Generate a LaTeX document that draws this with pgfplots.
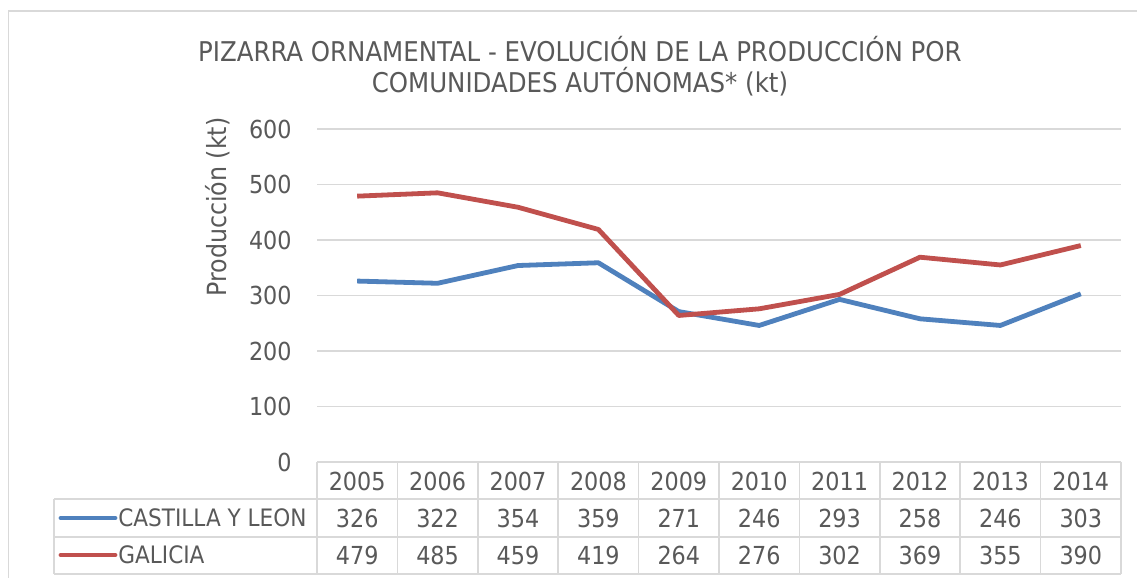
\documentclass[border=0pt]{standalone}
\usepackage{pgfplots}
\pgfplotsset{compat=1.18}
\usepackage{pgfplotstable}
\usepackage{fontspec}
\setmainfont{DejaVu Sans Condensed}
\definecolor{txt}{HTML}{595959}
\definecolor{grd}{HTML}{D9D9D9}
\definecolor{cyl}{HTML}{4F81BD}
\definecolor{gal}{HTML}{C0504D}
\pgfplotstableread{
i year cyl gal
0 2005 326 479
1 2006 322 485
2 2007 354 459
3 2008 359 419
4 2009 271 264
5 2010 246 276
6 2011 293 302
7 2012 258 369
8 2013 246 355
9 2014 303 390
}\data
\begin{document}
\begin{tikzpicture}
\useasboundingbox (0,0) rectangle (568.5pt,289pt);
\fill[white] (0,0) rectangle (568.5pt,289pt);
% outer frame
\draw[grd, line width=0.75pt] (4.25pt,0) -- (4.25pt,283.5pt) -- (568.5pt,283.5pt);
\begin{axis}[
  at={(158.5pt,58pt)}, anchor=south west,
  scale only axis, width=402pt, height=166.5pt,
  xmin=-0.5, xmax=9.5, ymin=0, ymax=600,
  clip=false,
  axis line style={draw=none},
  major tick length=0pt,
  ytick={0,100,...,600},
  ymajorgrids, grid style={grd, line width=0.75pt},
  xtick={0,...,9},
  xticklabels={2005,2006,2007,2008,2009,2010,2011,2012,2013,2014},
  /pgf/number format/assume math mode=true,
  tick label style={font=\fontsize{12.4}{14}\selectfont, text=txt},
  yticklabel style={anchor=east, inner sep=0pt, xshift=-12.5pt},
  xticklabel style={anchor=center, inner sep=0pt, yshift=-9.5pt},
  every node near coord/.style={font=\fontsize{12.4}{14}\selectfont, text=txt, anchor=center, inner sep=0pt},
]
\addplot[cyl, line width=2.4pt, line join=round] table[x=i, y=cyl] {\data};
\addplot[gal, line width=2.4pt, line join=round] table[x=i, y=gal] {\data};
\addplot[draw=none, mark=none, nodes near coords, point meta=explicit symbolic,
  every node near coord/.append style={yshift=-28pt}] table[x=i, y expr=0, meta=cyl] {\data};
\addplot[draw=none, mark=none, nodes near coords, point meta=explicit symbolic,
  every node near coord/.append style={yshift=-46.5pt}] table[x=i, y expr=0, meta=gal] {\data};
\end{axis}
% data table grid
\begin{scope}[grd, line width=0.75pt]
\draw (158.5pt,58pt) -- (560.5pt,58pt);
\draw (27pt,39.5pt) -- (560.5pt,39.5pt);
\draw (27pt,20.5pt) -- (560.5pt,20.5pt);
\draw (27pt,2pt) -- (560.5pt,2pt);
\draw (27pt,39.5pt) -- (27pt,2pt);
\foreach \k in {0,...,10} {\draw ({158.5pt+\k*40.2pt},58pt) -- ({158.5pt+\k*40.2pt},2pt);}
\end{scope}
% legend keys
\draw[cyl, line width=2.4pt, line cap=round] (30.5pt,30pt) -- (57.5pt,30pt);
\draw[gal, line width=2.4pt, line cap=round] (30.5pt,11.5pt) -- (57.5pt,11.5pt);
\node[anchor=west, inner sep=0pt, text=txt, font=\fontsize{12}{14}\selectfont] at (59pt,30pt) {CASTILLA Y LEON};
\node[anchor=west, inner sep=0pt, text=txt, font=\fontsize{12}{14}\selectfont] at (59pt,11.5pt) {GALICIA};
% titles
\node[text=txt, inner sep=0pt, font=\fontsize{13.6}{16}\selectfont] at (290pt,264.5pt) {PIZARRA ORNAMENTAL - EVOLUCIÓN DE LA PRODUCCIÓN POR};
\node[text=txt, inner sep=0pt, font=\fontsize{13.6}{16}\selectfont] at (290pt,248pt) {COMUNIDADES AUTÓNOMAS* (kt)};
\node[text=txt, inner sep=0pt, rotate=90, font=\fontsize{13.2}{15}\selectfont] at (109pt,185.5pt) {Producción (kt)};
\end{tikzpicture}
\end{document}
